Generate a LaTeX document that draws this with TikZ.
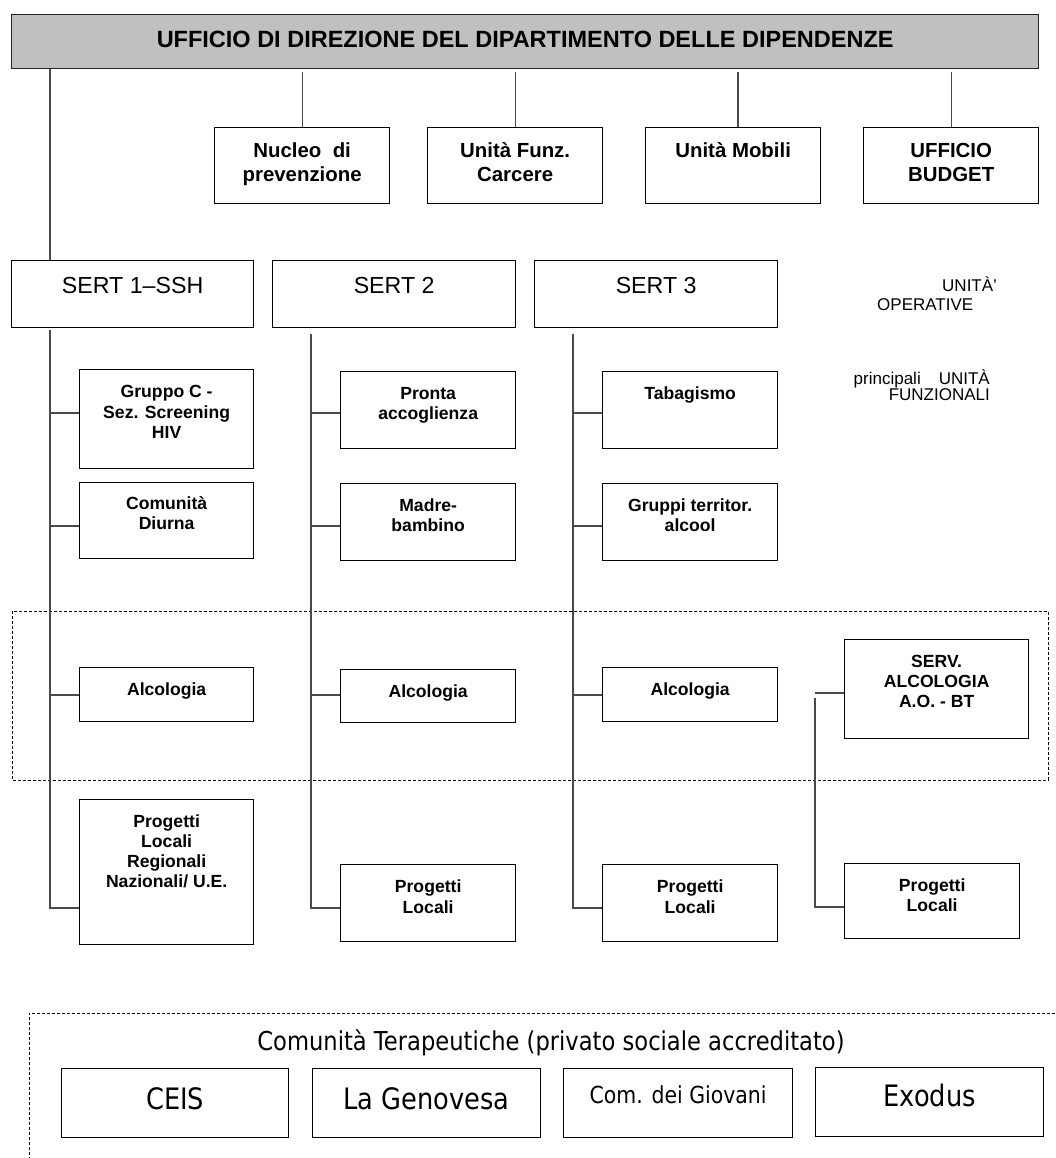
\documentclass[tikz,border=0pt]{standalone}
\usepackage{fontspec}
\setmainfont{Liberation Sans}
\newfontfamily\comfont[FakeStretch=0.87]{DejaVu Sans}
\usetikzlibrary{calc}

% stacked, centred lines whose baseline is the first line's baseline
\newcommand\lines[1]{\begin{tabular}[t]{@{}c@{}}#1\end{tabular}}
\newcommand\fsz[2]{\fontsize{#1pt}{#2pt}\selectfont}
% \ubox{name}{x1}{y1}{x2}{y2}: empty framed box from its top-left corner
\newcommand\ubox[5]{\node[unitbox, minimum width={(#4-#2)*1pt}, minimum height={(#5-#3)*1pt}] (#1) at (#2,#3) {};}

\definecolor{headgray}{HTML}{C0C0C0}
\definecolor{linegray}{HTML}{4A4A4A}

\tikzset{
  unitbox/.style={draw=black, line width=1.3pt, fill=white, inner sep=0pt, anchor=north west},
  conn/.style={draw=linegray, line width=1.2pt},
  dashbox/.style={draw=black, line width=0.9pt, dash pattern=on 3pt off 2pt},
  titletext/.style={font=\fsz{23.5}{27}\bfseries, inner sep=0pt, anchor=base},
  headtext/.style={font=\fsz{20.4}{23.5}\bfseries, inner sep=0pt, anchor=base},
  subtext/.style={font=\fsz{17.6}{20.3}\bfseries, inner sep=0pt, anchor=base},
  serttext/.style={font=\fsz{23.2}{26}, inner sep=0pt, anchor=base},
  sidetext/.style={font=\fsz{17}{19}, inner sep=0pt},
  comtext/.style={font=\comfont\fsz{29.5}{34}, inner sep=0pt, anchor=base},
}

\begin{document}
\begin{tikzpicture}[x=1pt, y=-1pt]
\useasboundingbox (0,0) rectangle (1055,1158);

% ---------- dashed groupings ----------
\draw[dashbox] (12,611) rectangle (1048,780);
\draw[dashbox] (1055,1013) -- (29,1013) -- (29,1158);

% ---------- department head ----------
\node[unitbox, fill=headgray, draw=black!85, minimum width=1027pt, minimum height=54pt] (top) at (11,14) {};
\node[titletext] (topt) at (top.north |- 0,47.3) {UFFICIO DI DIREZIONE DEL DIPARTIMENTO DELLE DIPENDENZE};

% ---------- staff units ----------
\ubox{nuc}{214}{127}{389}{203}
\ubox{fun}{427}{127}{602}{203}
\ubox{mob}{645}{127}{820}{203}
\ubox{bud}{863}{127}{1038}{203}
\node[headtext] (nuct) at (nuc.north |- 0,157.7) {\lines{Nucleo\ \ di\\prevenzione}};
\node[headtext] (funt) at (fun.north |- 0,157.7) {\lines{Unità Funz.\\Carcere}};
\node[headtext] (mobt) at (mob.north |- 0,157.7) {\lines{Unità Mobili}};
\node[headtext] (budt) at (bud.north |- 0,157.7) {\lines{UFFICIO\\BUDGET}};

% ---------- operative units ----------
\ubox{s1}{11}{260}{253}{327}
\ubox{s2}{272}{260}{515}{327}
\ubox{s3}{534}{260}{777}{327}
\node[serttext] (s1t) at (s1.north |- 0,293.3) {SERT 1--SSH};
\node[serttext] (s2t) at (s2.north |- 0,293.3) {SERT 2};
\node[serttext] (s3t) at (s3.north |- 0,293.3) {SERT 3};

\node[sidetext, anchor=base west] (uop) at (877,291)
  {\begin{tabular}[t]{@{}l@{}}\hspace*{65pt}UNITÀ’\\OPERATIVE\end{tabular}};
\node[sidetext, anchor=base east] (ufn) at (990,384)
  {\fsz{17}{15}\begin{tabular}[t]{@{}r@{}}principali\hspace{18pt}UNITÀ\\FUNZIONALI\end{tabular}};

% ---------- functional units, SERT 1 ----------
\ubox{g1}{79}{369}{253}{468}
\ubox{g2}{79}{482}{253}{558}
\ubox{g3}{79}{667}{253}{721}
\ubox{g4}{79}{799}{253}{944}
\node[subtext] (g1t) at (g1.north |- 0,397.7) {\lines{Gruppo C -\\Sez. Screening\\HIV}};
\node[subtext] (g2t) at (g2.north |- 0,509.3) {\lines{Comunità\\Diurna}};
\node[subtext] (g3t) at (g3.north |- 0,695.3) {\lines{Alcologia}};
\node[subtext] (g4t) at (g4.north |- 0,827) {\lines{Progetti\\Locali\\Regionali\\Nazionali/ U.E.}};

% ---------- functional units, SERT 2 ----------
\ubox{p1}{340}{371}{515}{448}
\ubox{p2}{340}{483}{515}{560}
\ubox{p3}{340}{669}{515}{722}
\ubox{p4}{340}{864}{515}{941}
\node[subtext] (p1t) at (p1.north |- 0,399.3) {\lines{Pronta\\accoglienza}};
\node[subtext] (p2t) at (p2.north |- 0,511) {\lines{Madre-\\bambino}};
\node[subtext] (p3t) at (p3.north |- 0,697.5) {\lines{Alcologia}};
\node[subtext] (p4t) at (p4.north |- 0,892.7) {\lines{Progetti\\Locali}};

% ---------- functional units, SERT 3 ----------
\ubox{t1}{602}{371}{777}{448}
\ubox{t2}{602}{483}{777}{560}
\ubox{t3}{602}{667}{777}{721}
\ubox{t4}{602}{864}{777}{941}
\node[subtext] (t1t) at (t1.north |- 0,399.3) {\lines{Tabagismo}};
\node[subtext] (t2t) at (t2.north |- 0,511) {\lines{Gruppi territor.\\alcool}};
\node[subtext] (t3t) at (t3.north |- 0,695.3) {\lines{Alcologia}};
\node[subtext] (t4t) at (t4.north |- 0,892.7) {\lines{Progetti\\Locali}};

% ---------- hospital alcohol service ----------
\ubox{sv}{844}{639}{1028}{738}
\ubox{q4}{844}{863}{1019}{938}
\node[subtext] (svt) at (sv.north |- 0,667.3) {\lines{SERV.\\ALCOLOGIA\\A.O. - BT}};
\node[subtext] (q4t) at (q4.north |- 0,891) {\lines{Progetti\\Locali}};

% ---------- connectors ----------
\coordinate (k1) at (50,0);
\coordinate (k2) at (311,0);
\coordinate (k3) at (573,0);
\coordinate (k4) at (815,0);
\coordinate (km) at (738,0);
\coordinate (ra) at (0,413);
\coordinate (rb) at (0,526);
\coordinate (rc) at (0,695);
\coordinate (rd) at (0,908);

\draw[conn] (k1 |- top.south) -- (k1 |- s1.north);
\draw[conn] ($(nuc.north |- top.south)+(0,3)$) -- (nuc.north);
\draw[conn] ($(fun.north |- top.south)+(0,3)$) -- (fun.north);
\draw[conn] ($(km |- top.south)+(0,3)$) -- (km |- mob.north);
\draw[conn] ($(bud.north |- top.south)+(0,3)$) -- (bud.north);

\draw[conn] ($(k1 |- s1.south)+(0,2)$) -- (k1 |- rd) -- (g4.west |- rd);
\draw[conn] (k1 |- ra) -- (g1.west |- ra);
\draw[conn] (k1 |- rb) -- (g2.west |- rb);
\draw[conn] (k1 |- rc) -- (g3.west |- rc);

\draw[conn] ($(k2 |- s2.south)+(0,6)$) -- (k2 |- rd) -- (p4.west |- rd);
\draw[conn] (k2 |- ra) -- (p1.west |- ra);
\draw[conn] (k2 |- rb) -- (p2.west |- rb);
\draw[conn] (k2 |- rc) -- (p3.west |- rc);

\draw[conn] ($(k3 |- s3.south)+(0,6)$) -- (k3 |- rd) -- (t4.west |- rd);
\draw[conn] (k3 |- ra) -- (t1.west |- ra);
\draw[conn] (k3 |- rb) -- (t2.west |- rb);
\draw[conn] (k3 |- rc) -- (t3.west |- rc);

\draw[conn] (k4 |- 0,693) -- (sv.west |- 0,693);
\draw[conn] (k4 |- 0,698) -- (k4 |- 0,907) -- (q4.west |- 0,907);

% ---------- therapeutic communities ----------
\node[comtext, font=\comfont\fsz{26}{30}] (ctt) at (551,1050) {Comunità Terapeutiche (privato sociale accreditato)};
\ubox{c1}{61}{1068}{288}{1137}
\ubox{c2}{312}{1068}{540}{1137}
\ubox{c3}{563}{1068}{792}{1137}
\ubox{c4}{815}{1067}{1043}{1136}
\node[comtext] (c1t) at (c1.north |- 0,1109) {CEIS};
\node[comtext] (c2t) at (c2.north |- 0,1109) {La Genovesa};
\node[comtext, font=\comfont\fsz{23.5}{27}] (c3t) at (c3.north |- 0,1103) {Com. dei Giovani};
\node[comtext] (c4t) at (c4.north |- 0,1106) {Exodus};
\end{tikzpicture}
\end{document}
